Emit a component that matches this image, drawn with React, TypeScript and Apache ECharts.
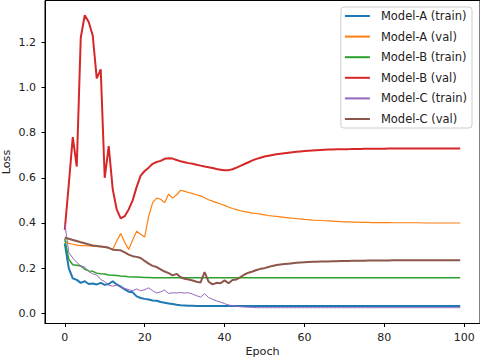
import React, { useEffect, useRef } from "react";
import * as echarts from "echarts";

const seriesNames = [
  "Model-A (train)",
  "Model-A (val)",
  "Model-B (train)",
  "Model-B (val)",
  "Model-C (train)",
  "Model-C (val)",
];

const modelATrain = [
  0.31, 0.2, 0.155, 0.148, 0.135, 0.142, 0.13, 0.132, 0.128, 0.135,
  0.126, 0.13, 0.142, 0.128, 0.118, 0.106, 0.096, 0.093, 0.075, 0.068,
  0.064, 0.061, 0.057, 0.056, 0.05, 0.047, 0.044, 0.041, 0.038, 0.036,
  0.035, 0.034, 0.034, 0.033, 0.033, 0.033, 0.032, 0.032, 0.032, 0.032,
  0.032, 0.032, 0.032, 0.032, 0.032, 0.032, 0.032, 0.032, 0.032, 0.032,
  0.032, 0.032, 0.032, 0.032, 0.032, 0.032, 0.032, 0.032, 0.032, 0.032,
  0.032, 0.032, 0.032, 0.032, 0.032, 0.032, 0.032, 0.032, 0.032, 0.032,
  0.032, 0.032, 0.032, 0.032, 0.032, 0.032, 0.032, 0.032, 0.032, 0.032,
  0.032, 0.032, 0.032, 0.032, 0.032, 0.032, 0.032, 0.032, 0.032, 0.032,
  0.032, 0.032, 0.032, 0.032, 0.032, 0.032, 0.032, 0.032, 0.032, 0.032,
];

const modelAVal = [
  0.32, 0.31, 0.306, 0.302, 0.3, 0.3, 0.298, 0.297, 0.296, 0.295,
  0.294, 0.29, 0.283, 0.32, 0.353, 0.315, 0.283, 0.325, 0.363, 0.35,
  0.338, 0.43, 0.49, 0.51, 0.505, 0.49, 0.528, 0.51, 0.525, 0.545,
  0.54, 0.535, 0.53, 0.525, 0.52, 0.512, 0.503, 0.497, 0.49, 0.484,
  0.478, 0.471, 0.464, 0.459, 0.454, 0.45, 0.447, 0.444, 0.442, 0.439,
  0.436, 0.433, 0.431, 0.429, 0.427, 0.425, 0.423, 0.421, 0.419, 0.418,
  0.416, 0.415, 0.413, 0.412, 0.411, 0.41, 0.409, 0.408, 0.407, 0.406,
  0.405, 0.405, 0.404, 0.404, 0.403, 0.403, 0.403, 0.402, 0.402, 0.402,
  0.402, 0.402, 0.401, 0.401, 0.401, 0.401, 0.401, 0.401, 0.401, 0.401,
  0.4, 0.4, 0.4, 0.4, 0.4, 0.4, 0.4, 0.4, 0.4, 0.4,
];

const modelBTrain = [
  0.33, 0.24, 0.215, 0.213, 0.21, 0.195, 0.188, 0.186, 0.178, 0.175,
  0.174, 0.17, 0.169, 0.167, 0.165, 0.164, 0.162, 0.161, 0.161, 0.16,
  0.159, 0.159, 0.158, 0.158, 0.158, 0.157, 0.157, 0.157, 0.157, 0.157,
  0.157, 0.157, 0.157, 0.157, 0.157, 0.157, 0.157, 0.157, 0.157, 0.157,
  0.157, 0.157, 0.157, 0.157, 0.157, 0.157, 0.157, 0.157, 0.157, 0.157,
  0.157, 0.157, 0.157, 0.157, 0.157, 0.157, 0.157, 0.157, 0.157, 0.157,
  0.157, 0.157, 0.157, 0.157, 0.157, 0.157, 0.157, 0.157, 0.157, 0.157,
  0.157, 0.157, 0.157, 0.157, 0.157, 0.157, 0.157, 0.157, 0.157, 0.157,
  0.157, 0.157, 0.157, 0.157, 0.157, 0.157, 0.157, 0.157, 0.157, 0.157,
  0.157, 0.157, 0.157, 0.157, 0.157, 0.157, 0.157, 0.157, 0.157, 0.157,
];

const modelBVal = [
  0.37, 0.57, 0.78, 0.65, 1.22, 1.32, 1.29, 1.23, 1.04, 1.08,
  0.6, 0.74, 0.55, 0.46, 0.42, 0.43, 0.46, 0.5, 0.56, 0.61,
  0.63, 0.645, 0.662, 0.67, 0.675, 0.684, 0.687, 0.685, 0.679, 0.673,
  0.669, 0.665, 0.662, 0.658, 0.654, 0.65, 0.647, 0.643, 0.639, 0.636,
  0.633, 0.634, 0.638, 0.645, 0.653, 0.661, 0.669, 0.677, 0.684, 0.689,
  0.694, 0.698, 0.701, 0.704, 0.707, 0.709, 0.711, 0.713, 0.715, 0.717,
  0.719, 0.72, 0.721, 0.722, 0.723, 0.724, 0.725, 0.725, 0.726, 0.726,
  0.727, 0.727, 0.728, 0.728, 0.728, 0.729, 0.729, 0.729, 0.729, 0.729,
  0.729, 0.73, 0.73, 0.73, 0.73, 0.73, 0.73, 0.73, 0.73, 0.73,
  0.73, 0.73, 0.73, 0.73, 0.73, 0.73, 0.73, 0.73, 0.73, 0.73,
];

const modelCTrain = [
  0.4, 0.27, 0.245, 0.225, 0.21, 0.205, 0.185, 0.175, 0.17, 0.15,
  0.14, 0.125, 0.12, 0.125, 0.115, 0.11, 0.105, 0.1, 0.108, 0.1,
  0.104, 0.113, 0.1, 0.09, 0.095, 0.103, 0.088, 0.091, 0.09, 0.092,
  0.09, 0.091, 0.085, 0.078, 0.072, 0.087, 0.07, 0.062, 0.055, 0.05,
  0.043, 0.037, 0.034, 0.031, 0.029, 0.028, 0.027, 0.026, 0.025, 0.025,
  0.025, 0.025, 0.025, 0.025, 0.025, 0.025, 0.025, 0.025, 0.025, 0.025,
  0.025, 0.025, 0.025, 0.025, 0.025, 0.025, 0.025, 0.025, 0.025, 0.025,
  0.025, 0.025, 0.025, 0.025, 0.025, 0.025, 0.025, 0.025, 0.025, 0.025,
  0.025, 0.025, 0.025, 0.025, 0.025, 0.025, 0.025, 0.025, 0.025, 0.025,
  0.025, 0.025, 0.025, 0.025, 0.025, 0.025, 0.025, 0.025, 0.025, 0.025,
];

const modelCVal = [
  0.335, 0.33, 0.325, 0.32, 0.315, 0.31, 0.305, 0.3, 0.298, 0.296,
  0.294, 0.29, 0.282, 0.28, 0.279, 0.27, 0.26, 0.253, 0.25, 0.245,
  0.232, 0.22, 0.21, 0.205, 0.195, 0.185, 0.178, 0.168, 0.175, 0.16,
  0.153, 0.15, 0.145, 0.14, 0.137, 0.182, 0.14, 0.128, 0.135, 0.133,
  0.146, 0.133, 0.148, 0.15, 0.16, 0.172, 0.18, 0.185, 0.192, 0.197,
  0.2, 0.205, 0.21, 0.214, 0.216, 0.218, 0.22, 0.222, 0.224, 0.225,
  0.226, 0.227, 0.228, 0.228, 0.229, 0.23, 0.23, 0.231, 0.231, 0.232,
  0.232, 0.232, 0.233, 0.233, 0.233, 0.233, 0.234, 0.234, 0.234, 0.234,
  0.234, 0.234, 0.235, 0.235, 0.235, 0.235, 0.235, 0.235, 0.235, 0.235,
  0.235, 0.235, 0.235, 0.235, 0.235, 0.235, 0.235, 0.235, 0.235, 0.235,
];

const xTicks = [0, 20, 40, 60, 80, 100];
const yTicks = [0, 0.2, 0.4, 0.6, 0.8, 1.0, 1.2];

const colors = ["#1f77b4", "#ff7f0e", "#2ca02c", "#d62728", "#9467bd", "#8c564b"];
const widths = [2, 1.2, 1.5, 2, 1, 2];
const allData = [modelATrain, modelAVal, modelBTrain, modelBVal, modelCTrain, modelCVal];

const FONT = "DejaVu Sans";

export default function App() {
  const ref = useRef<HTMLDivElement>(null);
  useEffect(() => {
    if (!ref.current) return;
    const chart = echarts.init(ref.current, null, { renderer: "svg" });
    chart.setOption({
      animation: false,
      grid: {
        left: 45,
        right: 0,
        top: 0.5,
        bottom: 36.5,
        outerBoundsMode: "none",
        containLabel: false,
        show: true,
        borderColor: "#000",
        borderWidth: 1,
        backgroundColor: "transparent",
      },
      legend: {
        orient: "vertical",
        right: 8,
        top: 7,
        itemWidth: 25,
        itemHeight: 10,
        itemGap: 8.6,
        padding: [3, 5, 3, 3],
        borderColor: "#cccccc",
        borderWidth: 1,
        borderRadius: 3,
        backgroundColor: "rgba(255,255,255,0.8)",
        itemStyle: { opacity: 0 },
        textStyle: {
          fontFamily: FONT,
          fontSize: 11.5,
          color: "#222",
          padding: [0, 0, 0, 6],
        },
        data: seriesNames,
      },
      xAxis: {
        type: "value",
        min: -4.95,
        max: 103.95,
        name: "Epoch",
        nameLocation: "middle",
        nameGap: 22.5,
        nameMoveOverlap: false,
        nameTextStyle: { fontFamily: FONT, fontSize: 11.2, color: "#222" },
        axisLine: { show: true, onZero: false, lineStyle: { color: "#000", width: 1 } },
        axisTick: { show: true, length: 3.5, customValues: xTicks, lineStyle: { color: "#000" } },
        axisLabel: {
          customValues: xTicks,
          fontFamily: FONT,
          fontSize: 11,
          color: "#222",
          margin: 8,
        },
        splitLine: { show: false },
      },
      yAxis: {
        type: "value",
        min: -0.045,
        max: 1.385,
        name: "Loss",
        nameLocation: "middle",
        nameGap: 33,
        nameMoveOverlap: false,
        nameTextStyle: { fontFamily: FONT, fontSize: 11.2, color: "#222" },
        axisLine: { show: true, onZero: false, lineStyle: { color: "#000", width: 1 } },
        axisTick: { show: true, length: 3.5, customValues: yTicks, lineStyle: { color: "#000" } },
        axisLabel: {
          customValues: yTicks,
          fontFamily: FONT,
          fontSize: 11,
          color: "#222",
          margin: 9,
          formatter: (v: number) => v.toFixed(1),
        },
        splitLine: { show: false },
      },
      series: seriesNames.map((name, i) => ({
        name,
        type: "line",
        symbol: "none",
        showSymbol: false,
        color: colors[i],
        lineStyle: { color: colors[i], width: widths[i] },
        data: allData[i].map((v, k) => [k, v]),
        z: 2 + i,
      })),
    });
    return () => chart.dispose();
  }, []);
  return <div ref={ref} style={{ width: 480, height: 360, position: "absolute", left: 0, top: 0 }} />;
}
